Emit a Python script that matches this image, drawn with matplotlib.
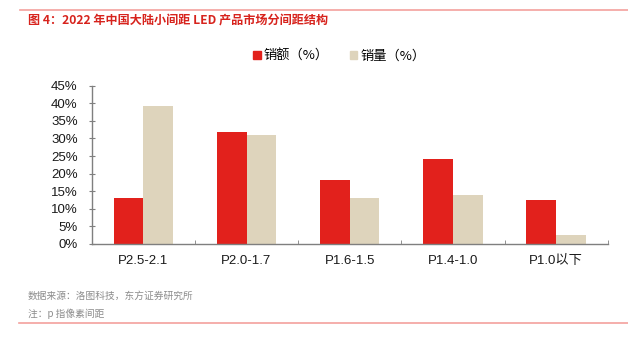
import matplotlib
matplotlib.use("Agg")
import matplotlib.pyplot as plt
from matplotlib.lines import Line2D
from matplotlib.patches import Rectangle
import numpy as np

plt.rcParams['font.family'] = ['Noto Sans CJK SC', 'DejaVu Sans']

categories = ["P2.5-2.1", "P2.0-1.7", "P1.6-1.5", "P1.4-1.0", "P1.0以下"]
sales_value = [13.0, 31.7, 18.3, 24.3, 12.5]   # 销额（%）
sales_volume = [39.3, 31.1, 13.0, 13.9, 2.7]   # 销量（%）
series_names = ["销额（%）", "销量（%）"]
y_ticks = [0, 5, 10, 15, 20, 25, 30, 35, 40, 45]

title = "图 4：2022 年中国大陆小间距 LED 产品市场分间距结构"
source = "数据来源：洛图科技，东方证券研究所"
note = "注：p 指像素间距"

red = "#E2211C"
beige = "#DED4BC"
rule = "#F3A19D"
axis_gray = "#7F7F7F"
latin = ["Liberation Sans", "Noto Sans CJK SC", "DejaVu Sans"]

W, H = 628, 338
fig = plt.figure(figsize=(W / 100, H / 100), dpi=100)

# plot area in pixel coordinates
left, right, bottom, top = 91.7, 607.7, 244.0, 85.7
ax = fig.add_axes([left / W, 1 - bottom / H, (right - left) / W, (bottom - top) / H])

x = np.arange(len(categories))
bw = 0.288
ax.bar(x - bw / 2, sales_value, width=bw, color=red, edgecolor="none", label=series_names[0])
ax.bar(x + bw / 2, sales_volume, width=bw, color=beige, edgecolor="none", label=series_names[1])

ax.set_xlim(-0.5, len(categories) - 0.5)
ax.set_ylim(0, 45)
ax.set_yticks(y_ticks)
ax.set_yticklabels([f"{v}%" for v in y_ticks], fontsize=9.5, color="#1a1a1a", family=latin)
ax.set_xticks(x)
ax.set_xticklabels(categories, fontsize=9.5, color="#1a1a1a", family=latin)
ax.tick_params(axis="x", length=0, pad=8)
ax.set_xticks(np.arange(len(categories) + 1) - 0.5, minor=True)
ax.tick_params(axis="x", which="minor", direction="in", length=3, color=axis_gray)
ax.tick_params(axis="y", direction="inout", length=4, color=axis_gray, pad=8)

for s in ["top", "right"]:
    ax.spines[s].set_visible(False)
for s in ["left", "bottom"]:
    ax.spines[s].set_color(axis_gray)
    ax.spines[s].set_linewidth(1.0)

# legend
handles = [Rectangle((0, 0), 1, 1, color=red), Rectangle((0, 0), 1, 1, color=beige)]
fig.legend(handles, series_names, loc="center", bbox_to_anchor=(339 / W, 1 - 56 / H),
           ncol=2, frameon=False, fontsize=9.5, handlelength=0.6, handleheight=0.6,
           handletextpad=0.2, columnspacing=1.6)

# header and footer rules
fig.add_artist(Line2D([20 / W, 1], [1 - 10 / H, 1 - 10 / H], color=rule, lw=1.2,
                      transform=fig.transFigure))
fig.add_artist(Line2D([19 / W, 1], [1 - 323 / H, 1 - 323 / H], color=rule, lw=1.2,
                      transform=fig.transFigure))

fig.text(28 / W, 1 - 21 / H, title, color="#D7231D", fontsize=8.7, fontweight="bold",
         va="center", ha="left")
fig.text(28 / W, 1 - 296 / H, source, color="#8C8C8C", fontsize=7, va="center", ha="left")
fig.text(28 / W, 1 - 314 / H, note, color="#8C8C8C", fontsize=7, va="center", ha="left")

fig.savefig("out.png", dpi=100)
